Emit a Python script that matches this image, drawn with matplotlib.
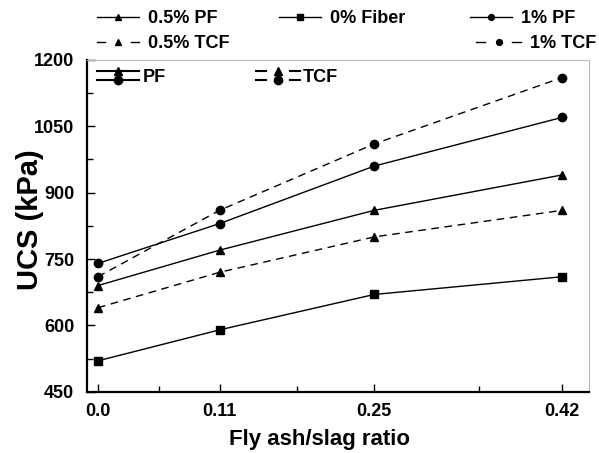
import numpy as np
import matplotlib
matplotlib.use('Agg')
import matplotlib.pyplot as plt
from matplotlib.lines import Line2D
from matplotlib.legend_handler import HandlerBase

plt.rcParams['font.family'] = ['Liberation Sans', 'DejaVu Sans']
plt.rcParams['font.weight'] = 'bold'

ratio = [0.0, 0.11, 0.25, 0.42]
ratio_labels = ['0.0', '0.11', '0.25', '0.42']
fiber0 = [520, 590, 670, 710]
pf05 = [690, 770, 860, 940]
pf1 = [740, 830, 960, 1070]
tcf05 = [640, 720, 800, 860]
tcf1 = [710, 860, 1010, 1160]

dash = (0, (5.5, 4))
W, H = 599, 453

fig = plt.figure(figsize=(W / 100, H / 100), dpi=100)
ax = fig.add_axes([0.145, 0.135, 0.838, 0.733])

l_pf05, = ax.plot(ratio, pf05, color='k', lw=1.0, marker='^', ms=6, label='0.5% PF')
l_f0, = ax.plot(ratio, fiber0, color='k', lw=1.0, marker='s', ms=5.5, label='0% Fiber')
l_pf1, = ax.plot(ratio, pf1, color='k', lw=1.0, marker='o', ms=6, label='1% PF')
l_tcf05, = ax.plot(ratio, tcf05, color='k', lw=1.0, ls=dash, marker='^', ms=6, label='0.5% TCF')
l_tcf1, = ax.plot(ratio, tcf1, color='k', lw=1.0, ls=dash, marker='o', ms=6, label='1% TCF')

ax.set_xlim(-0.01, 0.444)
ax.set_ylim(450, 1200)
ax.set_xticks(ratio)
ax.set_xticklabels(ratio_labels)
ax.set_xticks([0.055, 0.18, 0.345], minor=True)
ax.set_yticks(np.arange(450, 1201, 150))
ax.set_yticks(np.arange(525, 1200, 150), minor=True)
ax.tick_params(which='both', direction='in', labelsize=13, width=1.0)
ax.tick_params(which='major', length=6)
ax.tick_params(which='minor', length=4)
ax.tick_params(axis='x', pad=8)
ax.tick_params(axis='y', pad=9)
for s in ['left', 'bottom']:
    ax.spines[s].set_linewidth(1.6)
for s in ['top', 'right']:
    ax.spines[s].set_linewidth(0.8)
    ax.spines[s].set_color('#bbbbbb')

ax.set_ylabel('UCS (kPa)', fontsize=21, fontweight='bold', va='center')
ax.yaxis.set_label_coords(-0.113, 0.52)
ax.set_xlabel('Fly ash/slag ratio', fontsize=16, fontweight='bold')
ax.xaxis.set_label_coords(0.464, -0.112)


class HandlerStack(HandlerBase):
    # one or more lines stacked; dashed ones drawn as "- marker -"
    def __init__(self, gap=0.5, ms=None, lw=1.0, seg=0.2, **kw):
        super().__init__(**kw)
        self.gap, self.ms, self.lw, self.seg = gap, ms, lw, seg

    def create_artists(self, legend, orig_handle, xdescent, ydescent,
                       width, height, fontsize, trans):
        hs = orig_handle if isinstance(orig_handle, tuple) else (orig_handle,)
        arts = []
        yc = height / 2 - ydescent
        n = len(hs)
        x0, x1 = -xdescent, width - xdescent
        for i, h in enumerate(hs):
            y = yc + ((n - 1) / 2 - i) * fontsize * self.gap
            if h.get_linestyle() == '-':
                segs = [(x0, x1)]
            else:
                segs = [(x0, x0 + self.seg * width), (x1 - self.seg * width, x1)]
            for a, b in segs:
                ln = Line2D([a, b], [y, y], color='k', lw=self.lw)
                ln.set_transform(trans)
                arts.append(ln)
            mk = Line2D([(x0 + x1) / 2], [y], color='k', ls='none',
                        marker=h.get_marker(),
                        ms=self.ms if self.ms else h.get_markersize())
            mk.set_transform(trans)
            arts.append(mk)
        return arts


def entry(handle, label, x, y, hl, pad, handler):
    fig.legend([handle], [label], loc='center left',
               bbox_to_anchor=(x / W, 1 - y / H), frameon=False,
               borderpad=0, borderaxespad=0, fontsize=13,
               handlelength=hl, handletextpad=pad, handleheight=1.0,
               handler_map={handle: handler})


# legend above the axes
top = HandlerStack(ms=4.2, lw=1.0, seg=0.2)
entry(l_pf05, '0.5% PF', 97, 18, 2.33, 0.5, top)
entry(l_tcf05, '0.5% TCF', 97, 43, 2.33, 0.5, top)
entry(l_f0, '0% Fiber', 279, 18, 2.33, 0.5, top)
entry(l_pf1, '1% PF', 470, 18, 2.33, 0.5, top)
entry(l_tcf1, '1% TCF', 476, 43, 2.5, 0.5, top)

# PF / TCF key inside the axes
inner = HandlerStack(gap=0.5, ms=6, lw=1.5, seg=0.23)
entry((l_pf05, l_pf1), 'PF', 97, 76.5, 2.33, 0.2, inner)
entry((l_tcf05, l_tcf1), 'TCF', 256, 76.5, 2.43, 0.15, inner)

fig.savefig('out.png', dpi=100)
